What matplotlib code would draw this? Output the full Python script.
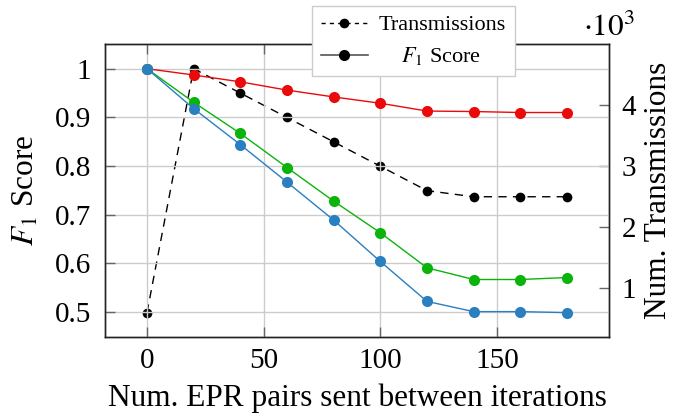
import matplotlib
matplotlib.use("Agg")
import matplotlib.pyplot as plt
from matplotlib.lines import Line2D
from matplotlib.ticker import FuncFormatter

plt.rcParams['font.family'] = ['Liberation Serif', 'DejaVu Serif']
plt.rcParams['mathtext.fontset'] = 'stix'

# Data
epr_pairs = [0, 20, 40, 60, 80, 100, 120, 140, 160, 180]
f1_red = [1.0, 0.987, 0.973, 0.956, 0.942, 0.929, 0.913, 0.912, 0.910, 0.910]
f1_green = [1.0, 0.931, 0.867, 0.797, 0.728, 0.663, 0.591, 0.567, 0.567, 0.571]
f1_blue = [1.0, 0.918, 0.844, 0.767, 0.689, 0.604, 0.522, 0.501, 0.501, 0.499]
transmissions = [600, 4600, 4200, 3800, 3400, 3000, 2600, 2500, 2500, 2500]

x_ticks = [0, 50, 100, 150]
y_ticks = [0.5, 0.6, 0.7, 0.8, 0.9, 1.0]
y_tick_labels = ['0.5', '0.6', '0.7', '0.8', '0.9', '1']
y2_ticks = [1000, 2000, 3000, 4000]

RED = '#ea0a0a'
GREEN = '#0ab40a'
BLUE = '#2a7fc0'
FS_TICK = 21
FS_LABEL = 22.5

W, H = 676, 418
fig = plt.figure(figsize=(W / 100, H / 100), dpi=100)
ax = fig.add_axes([105 / W, 1 - 337 / H, (609 - 105) / W, (337 - 44.3) / H])
ax2 = ax.twinx()

ax.set_zorder(1)
ax.patch.set_visible(False)

for vals, col in [(f1_red, RED), (f1_green, GREEN), (f1_blue, BLUE)]:
    ax.plot(epr_pairs, vals, color=col, lw=1.0, marker='o', markersize=8,
            markeredgewidth=0, zorder=3)

ax2.plot(epr_pairs, transmissions, color='black', lw=1.0, ls=(0, (6, 4.5)),
         marker='o', markersize=7, markeredgewidth=0)

ax.set_xlim(-18, 198)
ax.set_ylim(0.4489, 1.0501)
ax2.set_ylim(200, 5000)

ax.set_xticks(x_ticks)
ax.set_xticklabels([str(v) for v in x_ticks], fontsize=FS_TICK)
ax.set_yticks(y_ticks)
ax.set_yticklabels(y_tick_labels, fontsize=FS_TICK)
ax2.set_yticks(y2_ticks)
ax2.yaxis.set_major_formatter(FuncFormatter(lambda v, p: f'{v / 1000:g}'))
ax2.tick_params(axis='y', labelsize=FS_TICK)

ax.grid(True, color='#cccccc', lw=1.0)
ax.set_axisbelow(True)

ax.tick_params(axis='both', direction='in', length=7, width=1, color='#666666',
               top=True, right=False)
ax.tick_params(axis='x', pad=8)
ax.tick_params(axis='y', pad=10)
ax2.tick_params(axis='y', direction='in', length=7, width=1, color='#666666', pad=9)

for a in (ax, ax2):
    for s in a.spines.values():
        s.set_linewidth(1.0)
        s.set_color('#222222')

ax.set_xlabel('Num. EPR pairs sent between iterations', fontsize=FS_LABEL, labelpad=7)
ax.set_ylabel('$F_1$ Score', fontsize=FS_LABEL, labelpad=10)
ax2.set_ylabel('Num. Transmissions', fontsize=FS_LABEL, labelpad=6)

ax2.text(1.0, 1.005, r'$\cdot 10^{3}$', transform=ax.transAxes, fontsize=FS_LABEL,
         ha='center', va='bottom')

handles = [
    Line2D([], [], color='black', lw=1.0, ls=(0, (3, 3)), marker='o', markersize=7,
           markeredgewidth=0),
    Line2D([], [], color='#555555', lw=1.2, marker='o', markersize=8,
           markeredgewidth=0, markerfacecolor='black'),
]
leg = ax.legend(handles, ['Transmissions', '    $F_1$ Score'], loc='lower left',
                bbox_to_anchor=(0.411, 0.891), borderaxespad=0, fontsize=16,
                frameon=True, fancybox=False, framealpha=1, edgecolor='#cccccc',
                handlelength=2.1, handletextpad=0.5, borderpad=0.4, labelspacing=0.45)
leg.get_frame().set_linewidth(1.0)
leg.set_zorder(10)

fig.savefig('out.png', dpi=100)
